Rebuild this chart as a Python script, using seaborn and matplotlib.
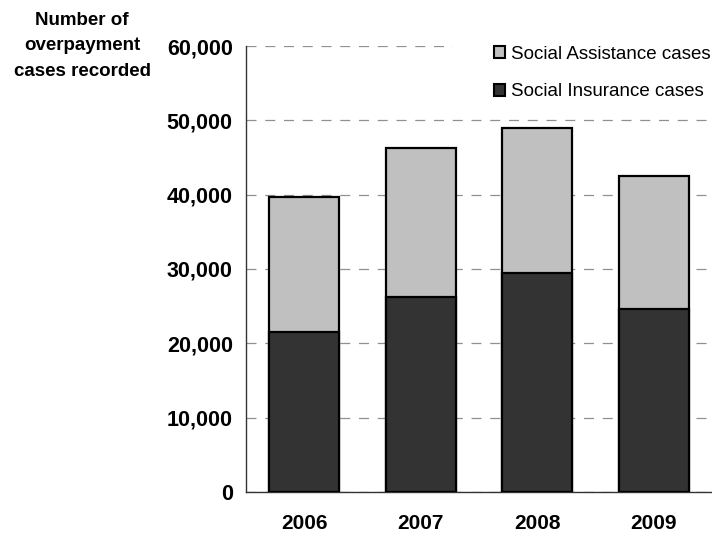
import matplotlib
matplotlib.use("Agg")
import matplotlib.pyplot as plt
from matplotlib.patches import Patch, Rectangle
from matplotlib.ticker import FuncFormatter, FixedLocator
import seaborn as sns
import pandas as pd

years = ["2006", "2007", "2008", "2009"]
insurance = [21500, 26200, 29400, 24600]
assistance = [18200, 20100, 19600, 17900]

sns.set_theme(style="white")
plt.rcParams["font.family"] = ["Liberation Sans", "DejaVu Sans"]
plt.rcParams["text.color"] = "black"

df = pd.DataFrame({"year": years, "insurance": insurance, "assistance": assistance})
df["total"] = df["insurance"] + df["assistance"]

W, H = 712, 535
fig = plt.figure(figsize=(W / 100, H / 100), dpi=100)
ax = fig.add_axes([246 / W, 1 - 492 / H, 1 - 246 / W, (492 - 46) / H])

light = "#C0C0C0"
dark = "#333333"

sns.barplot(data=df, x="year", y="total", color=light, edgecolor="black",
            linewidth=1.6, width=0.6, saturation=1, ax=ax, zorder=3)
sns.barplot(data=df, x="year", y="insurance", color=dark, edgecolor="black",
            linewidth=1.6, width=0.6, saturation=1, ax=ax, zorder=3)

ax.set_xlim(-0.5, 3.5)
ax.set_ylim(0, 60000)
ax.set_yticks(range(0, 60001, 10000))
ax.yaxis.set_major_formatter(FuncFormatter(lambda v, p: f"{int(v):,}"))
ax.xaxis.set_major_locator(FixedLocator([0, 1, 2, 3]))
ax.xaxis.set_minor_locator(FixedLocator([-0.5, 0.5, 1.5, 2.5, 3.5]))
ax.tick_params(axis="x", which="major", length=0, pad=16, labelsize=15)
ax.tick_params(axis="x", which="minor", length=5.5, width=1, color="#333333", direction="out")
ax.tick_params(axis="y", length=5.5, width=1, color="#333333", direction="out", pad=4, labelsize=15.5)
for lab in ax.get_xticklabels() + ax.get_yticklabels():
    lab.set_fontweight("bold")
    lab.set_color("black")

ax.set_xlabel("")
ax.set_ylabel("")
ax.yaxis.grid(True, linestyle=(0, (8, 7)), color="#909090", linewidth=0.9, zorder=0)
ax.set_axisbelow(True)

for side in ["top", "right"]:
    ax.spines[side].set_visible(False)
for side in ["left", "bottom"]:
    ax.spines[side].set_color("#333333")
    ax.spines[side].set_linewidth(1.0)

# white backdrop behind the legend, hiding the top gridline there
fig.add_artist(Rectangle((453 / W, 1 - 110 / H), (W - 453) / W, 80 / H,
                         transform=fig.transFigure, facecolor="white",
                         edgecolor="none", zorder=2))

handles = [Patch(facecolor=light, edgecolor="black", linewidth=1.5, label="Social Assistance cases"),
           Patch(facecolor=dark, edgecolor="black", linewidth=1.5, label="Social Insurance cases")]
leg = fig.legend(handles=handles, loc="upper left", bbox_to_anchor=(494 / W, 1 - 46 / H),
                 bbox_transform=fig.transFigure,
                 frameon=False, fontsize=13.5, handlelength=0.6, handleheight=0.6,
                 handletextpad=0.3, labelspacing=1.08, borderpad=0, borderaxespad=0)
leg.set_zorder(5)

fig.text(82 / W, 1 - 46 / H, "Number of\noverpayment\ncases recorded", ha="center", va="center",
         fontsize=13.5, fontweight="bold", linespacing=1.68, color="black")

fig.savefig("out.png", dpi=100)
